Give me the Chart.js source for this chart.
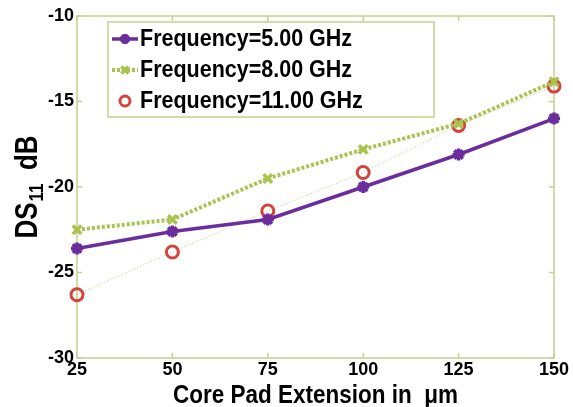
<!DOCTYPE html>
<html>
<head>
<meta charset="utf-8">
<script src="https://cdn.jsdelivr.net/npm/chart.js@4.4.1/dist/chart.umd.min.js"></script>
<style>
html, body { margin: 0; padding: 0; background: #fff; }
</style>
</head>
<body>
<canvas id="myChart" width="573" height="407"></canvas>
<script>
// DS11 vs core pad extension

const extension = [25, 50, 75, 100, 125, 150];
const freq5 = [-23.6, -22.6, -21.9, -20.0, -18.1, -16.0];
const freq8 = [-22.5, -21.9, -19.5, -17.8, -16.3, -13.85];
const freq11 = [-26.3, -23.8, -21.4, -19.15, -16.4, -14.1];
const seriesLabels = ['Frequency=5.00 GHz', 'Frequency=8.00 GHz', 'Frequency=11.00 GHz'];
const xTicks = [25, 50, 75, 100, 125, 150];
const yTicks = [-30, -25, -20, -15, -10];
const xTitle = 'Core Pad Extension in  \u03bcm';

const FONT = '"Liberation Sans", Arial, sans-serif';
const axisColor = '#c6d08e';
const purple = '#6b2d9c';
const green = '#a9c34f';
const red = '#d2443c';

function toPoints(values) {
    return extension.map((x, i) => ({x: x, y: values[i]}));
}

const frame = {
    id: 'frame',
    beforeDatasetsDraw(chart) {
        const {ctx, chartArea: a, scales: {x, y}} = chart;
        ctx.save();
        ctx.strokeStyle = axisColor;
        ctx.lineWidth = 1.5;
        ctx.strokeRect(a.left, a.top, a.right - a.left, a.bottom - a.top);
        ctx.beginPath();
        xTicks.forEach(v => {
            const px = x.getPixelForValue(v);
            ctx.moveTo(px, a.bottom); ctx.lineTo(px, a.bottom - 5);
            ctx.moveTo(px, a.top); ctx.lineTo(px, a.top + 5);
        });
        yTicks.forEach(v => {
            const py = y.getPixelForValue(v);
            ctx.moveTo(a.left, py); ctx.lineTo(a.left + 5, py);
            ctx.moveTo(a.right, py); ctx.lineTo(a.right - 5, py);
        });
        ctx.stroke();
        ctx.restore();
    }
};

const titles = {
    id: 'titles',
    afterDraw(chart) {
        const {ctx, chartArea: a} = chart;
        ctx.save();
        ctx.fillStyle = '#000';
        // x title
        ctx.save();
        ctx.translate((a.left + a.right) / 2, 403);
        ctx.scale(1, 1.12);
        ctx.font = 'bold 22.5px ' + FONT;
        ctx.textAlign = 'center';
        ctx.textBaseline = 'alphabetic';
        ctx.fillText(xTitle, 0, 0);
        ctx.restore();
        // y title with subscript
        ctx.translate(37, (a.top + a.bottom) / 2);
        ctx.rotate(-Math.PI / 2);
        ctx.scale(1, 1.2);
        ctx.textAlign = 'left';
        ctx.font = 'bold 26px ' + FONT;
        const w1 = ctx.measureText('DS').width;
        ctx.font = 'bold 17px ' + FONT;
        const w2 = ctx.measureText('11').width;
        ctx.font = 'bold 26px ' + FONT;
        const w3 = ctx.measureText('  dB').width;
        let x0 = -(w1 + w2 + w3) / 2;
        ctx.fillText('DS', x0, 0);
        ctx.font = 'bold 17px ' + FONT;
        ctx.fillText('11', x0 + w1 + 1, 5);
        ctx.font = 'bold 26px ' + FONT;
        ctx.fillText('  dB', x0 + w1 + w2, 0);
        ctx.restore();
    }
};

const boxLegend = {
    id: 'boxLegend',
    afterDatasetsDraw(chart) {
        const {ctx, chartArea: a} = chart;
        const left = a.left + 31, top = a.top + 6;
        ctx.save();
        ctx.fillStyle = '#fff';
        ctx.fillRect(left, top, 326, 95);
        ctx.strokeStyle = axisColor;
        ctx.lineWidth = 1.5;
        ctx.strokeRect(left, top, 326, 95);
        chart.data.datasets.forEach((ds, i) => {
            const cy = top + 17 + i * 31;
            ctx.save();
            if (ds.legendLine) {
                ctx.strokeStyle = ds.borderColor;
                ctx.lineWidth = ds.borderWidth;
                ctx.setLineDash(ds.borderDash || []);
                ctx.beginPath();
                ctx.moveTo(left + 4, cy);
                ctx.lineTo(left + 30, cy);
                ctx.stroke();
            }
            ctx.setLineDash([]);
            ctx.fillStyle = ds.pointBackgroundColor;
            ctx.strokeStyle = ds.pointBorderColor;
            ctx.lineWidth = ds.pointBorderWidth;
            Chart.helpers.drawPoint(ctx, {
                pointStyle: ds.pointStyle,
                radius: ds.pointRadius - 1,
                rotation: 0,
                borderWidth: ds.pointBorderWidth
            }, left + 17, cy);
            ctx.restore();
            ctx.save();
            ctx.translate(left + 32, cy + 7);
            ctx.scale(1, 1.1);
            ctx.fillStyle = '#000';
            ctx.font = 'bold 21.5px ' + FONT;
            ctx.textBaseline = 'alphabetic';
            ctx.textAlign = 'left';
            ctx.fillText(ds.label, 0, 0);
            ctx.restore();
        });
        ctx.restore();
    }
};

const ctx = document.getElementById('myChart').getContext('2d');
const myChart = new Chart(ctx, {
    type: 'line',
    data: {
        datasets: [{
            label: seriesLabels[0],
            data: toPoints(freq5),
            borderColor: purple,
            backgroundColor: purple,
            borderWidth: 3.5,
            pointStyle: 'star',
            pointRadius: 6,
            pointBorderWidth: 3.5,
            pointBorderColor: purple,
            pointBackgroundColor: purple,
            legendLine: true,
            clip: false
        }, {
            label: seriesLabels[1],
            data: toPoints(freq8),
            borderColor: green,
            backgroundColor: green,
            borderWidth: 4,
            borderDash: [3, 2],
            pointStyle: 'crossRot',
            pointRadius: 6,
            pointBorderWidth: 3.5,
            pointBorderColor: green,
            pointBackgroundColor: green,
            legendLine: true,
            clip: false
        }, {
            label: seriesLabels[2],
            data: toPoints(freq11),
            borderColor: '#bccb7e',
            backgroundColor: 'rgba(0,0,0,0)',
            borderWidth: 1,
            borderDash: [1, 2],
            pointStyle: 'circle',
            pointRadius: 6,
            pointBorderWidth: 3,
            pointBorderColor: red,
            pointBackgroundColor: 'rgba(0,0,0,0)',
            legendLine: false,
            clip: false
        }]
    },
    options: {
        responsive: false,
        animation: false,
        layout: {padding: {top: 16, right: 19, left: 0, bottom: 0}},
        plugins: {legend: {display: false}, tooltip: {enabled: false}},
        scales: {
            x: {
                type: 'linear',
                min: 25,
                max: 150,
                afterBuildTicks: s => { s.ticks = xTicks.map(v => ({value: v})); },
                afterFit: s => { s.height = 49; },
                grid: {display: false, drawTicks: false},
                border: {display: false},
                ticks: {color: '#000', padding: 1, maxRotation: 0, font: {family: FONT, size: 18, weight: 'bold'}}
            },
            y: {
                min: -30,
                max: -10,
                afterBuildTicks: s => { s.ticks = yTicks.map(v => ({value: v})); },
                afterFit: s => { s.width = 77; },
                grid: {display: false, drawTicks: false},
                border: {display: false},
                ticks: {color: '#000', padding: 3, font: {family: FONT, size: 18, weight: 'bold'}}
            }
        }
    },
    plugins: [frame, boxLegend, titles]
});
</script>
</body>
</html>
